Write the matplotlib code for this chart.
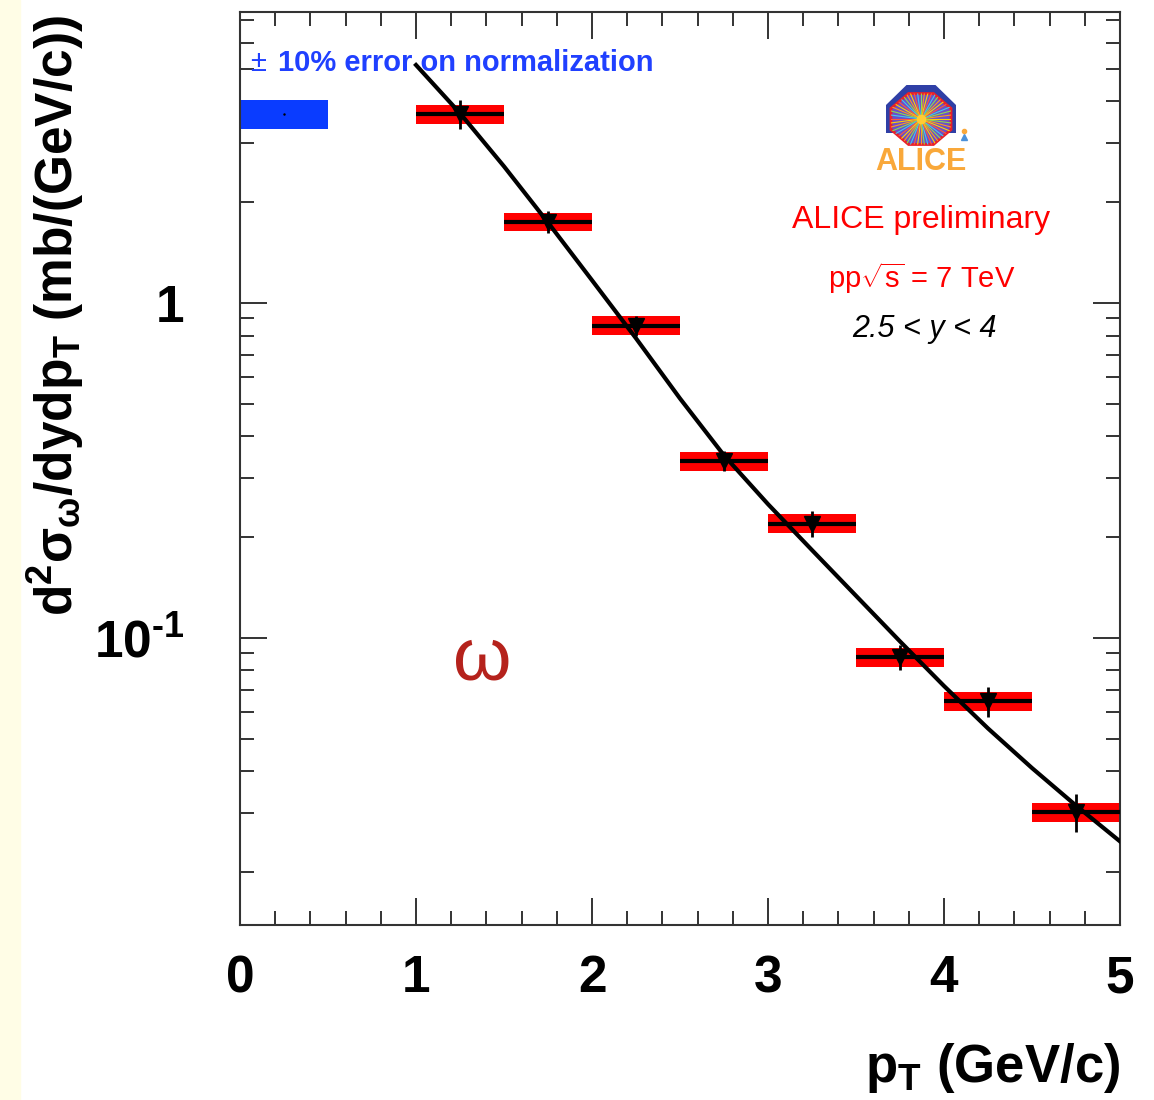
import numpy as np
import matplotlib
matplotlib.use('Agg')
import matplotlib.pyplot as plt
from matplotlib.patches import Polygon, Rectangle
from matplotlib.ticker import MultipleLocator, LogLocator, NullFormatter

plt.rcParams['font.family'] = ['Liberation Sans', 'DejaVu Sans']
plt.rcParams['mathtext.fontset'] = 'custom'
plt.rcParams['mathtext.rm'] = 'Liberation Sans'
plt.rcParams['mathtext.it'] = 'Liberation Sans:italic'
plt.rcParams['mathtext.bf'] = 'Liberation Sans:bold'
plt.rcParams['mathtext.default'] = 'regular'

# omega cross section, pp 7 TeV, 2.5 < y < 4
pt = [1.25, 1.75, 2.25, 2.75, 3.25, 3.75, 4.25, 4.75]
pt_half_width = 0.25
xsec = [3.67, 1.75, 0.857, 0.338, 0.2195, 0.0876, 0.0647, 0.0302]
stat_rel = [0.10, 0.075, 0.07, 0.07, 0.09, 0.085, 0.10, 0.13]
sys_rel = [0.065, 0.065, 0.065, 0.065, 0.065, 0.065, 0.065, 0.065]

# fit function evaluated on a pT grid
fit_pt = [1.0, 1.25, 1.5, 1.75, 2.0, 2.25, 2.5, 2.75, 3.0,
          3.25, 3.5, 3.75, 4.0, 4.25, 4.5, 4.75, 5.0]
fit_xsec = [5.14, 3.69, 2.56, 1.74, 1.17, 0.785, 0.519, 0.351, 0.251,
            0.183, 0.1337, 0.0977, 0.0719, 0.0537, 0.0409, 0.0316, 0.0247]

# global normalization uncertainty
norm_rel = 0.10
norm_pt_range = [0.0, 0.5]

xtick_labels = ['0', '1', '2', '3', '4', '5']
ytick_values = [0.1, 1]
ytick_labels = ['10$^{\u2010 1}$', '1']

W, H = 1154, 1100
tick_font = dict(family=['Liberation Sans', 'DejaVu Sans'], fontweight='bold', fontsize=37)

fig = plt.figure(figsize=(W / 100, H / 100), dpi=100)
fig.patches.append(Rectangle((0, 0), 20 / W, 1, transform=fig.transFigure,
                             color='#fffde6', zorder=0))

ax = fig.add_axes([240 / W, 175 / H, 880 / W, 913 / H])
ax.set_yscale('log')

x = np.array(pt)
y = np.array(xsec)
stat = np.array(stat_rel) * y
sys = np.array(sys_rel) * y

# normalization box
ax.bar(np.mean(norm_pt_range), 2 * norm_rel * y[0], bottom=y[0] * (1 - norm_rel),
       width=norm_pt_range[1] - norm_pt_range[0], color='#0a3cff', linewidth=0, zorder=2)
ax.plot(np.mean(norm_pt_range), y[0], marker='.', ms=1.5, color='k', zorder=3)

# systematic boxes, bin widths, statistical errors
ax.bar(x, 2 * sys, bottom=y - sys, width=2 * pt_half_width,
       color='#ff0000', linewidth=0, zorder=2)
ax.hlines(y, x - pt_half_width, x + pt_half_width, color='k', lw=3, zorder=3)
ax.errorbar(x, y, yerr=stat, fmt='v', color='k', ms=11, elinewidth=2,
            capsize=0, zorder=4)
ax.plot(fit_pt, fit_xsec, color='k', lw=3, zorder=5)

ax.set_xlim(0, 5)
ax.set_ylim(0.0139, 7.4)
ax.set_xticks(range(6), labels=xtick_labels, **tick_font)
ax.xaxis.set_minor_locator(MultipleLocator(0.2))
ax.set_yticks(ytick_values, labels=ytick_labels, **tick_font)
ax.yaxis.set_minor_locator(LogLocator(base=10, subs=np.arange(2, 10), numticks=20))
ax.yaxis.set_minor_formatter(NullFormatter())

ax.tick_params(which='both', direction='in', top=True, right=True,
               width=1.4, color='#333333')
ax.tick_params(which='major', length=19.5)
ax.tick_params(which='minor', length=10)
ax.tick_params(axis='x', which='major', pad=21)
ax.tick_params(axis='y', which='major', pad=40)
for s in ax.spines.values():
    s.set_linewidth(1.5)
    s.set_color('#333333')

# axis titles
fig.text(56 / W, 1 - 15 / H, r'd$^{2}\sigma_{\omega}$/dydp$_{T}$ (mb/(GeV/c))',
         rotation=90, ha='center', va='top', fontsize=37, fontweight='bold')
fig.text(1120 / W, 1 - 1082 / H, 'p$_{T}$ (GeV/c)', ha='right', va='baseline',
         fontsize=38, fontweight='bold')

# annotations
ax.text(0.0114, 0.944, '±', transform=ax.transAxes, color='#2040ff',
        fontsize=21, ha='left', va='center')
ax.text(0.043, 0.944, '10% error on normalization', transform=ax.transAxes,
        color='#2040ff', fontsize=21, fontweight='bold', ha='left', va='center')
ax.text(0.774, 0.836, 'ALICE', transform=ax.transAxes, color='#f9a83a',
        fontsize=22, fontweight='bold', ha='center', va='center')
ax.text(0.774, 0.772, 'ALICE preliminary', transform=ax.transAxes,
        color='#ff0000', fontsize=23, ha='center', va='center')
ax.text(0.775, 0.708, r'pp$\sqrt{s}$ = 7 TeV', transform=ax.transAxes,
        color='#ff0000', fontsize=21, ha='center', va='center')
ax.text(0.7773, 0.653, '2.5 < y < 4', transform=ax.transAxes,
        color='k', fontsize=22, style='italic', ha='center', va='center')
ax.text(0.275, 0.29, 'ω', transform=ax.transAxes, color='#b5221c',
        fontsize=54, ha='center', va='center')

# experiment logo
logo = fig.add_axes([870 / W, 1 - 150 / H, 102 / W, 70 / H])
logo.set_xlim(0, 102)
logo.set_ylim(0, 70)
logo.axis('off')
cx, cy = 51, 31
arch = [(cx - 35, 17), (cx - 35, cy + 14), (cx - 14.5, cy + 34),
        (cx + 14.5, cy + 34), (cx + 35, cy + 14), (cx + 35, 17)]
logo.add_patch(Polygon(arch, closed=True, color='#2f3fa6', lw=0))
ang = np.deg2rad(22.5 + 45 * np.arange(8))
octo = Polygon(np.column_stack([cx + 32.5 * np.cos(ang), cy + 27.6 * np.sin(ang)]),
               closed=True, facecolor='#6a4fc8', edgecolor='#e8202a', lw=2)
logo.add_patch(octo)
ray_colors = ['#ffd400', '#ff9a1f', '#8fdc4a', '#42c8f0', '#ff5a3c']
for i, a in enumerate(np.deg2rad(np.arange(0, 360, 7.5))):
    ln, = logo.plot([cx, cx + 40 * np.cos(a)], [cy, cy + 40 * np.sin(a)],
                    color=ray_colors[i % len(ray_colors)], lw=0.8)
    ln.set_clip_path(octo)
logo.plot(cx, cy, 'o', color='#ffcc33', ms=6)
logo.plot(94, 19, 'o', color='#f9a83a', ms=3)
logo.plot(94, 13, '^', color='#4a90d9', ms=5)

fig.savefig('out.png', dpi=100)
